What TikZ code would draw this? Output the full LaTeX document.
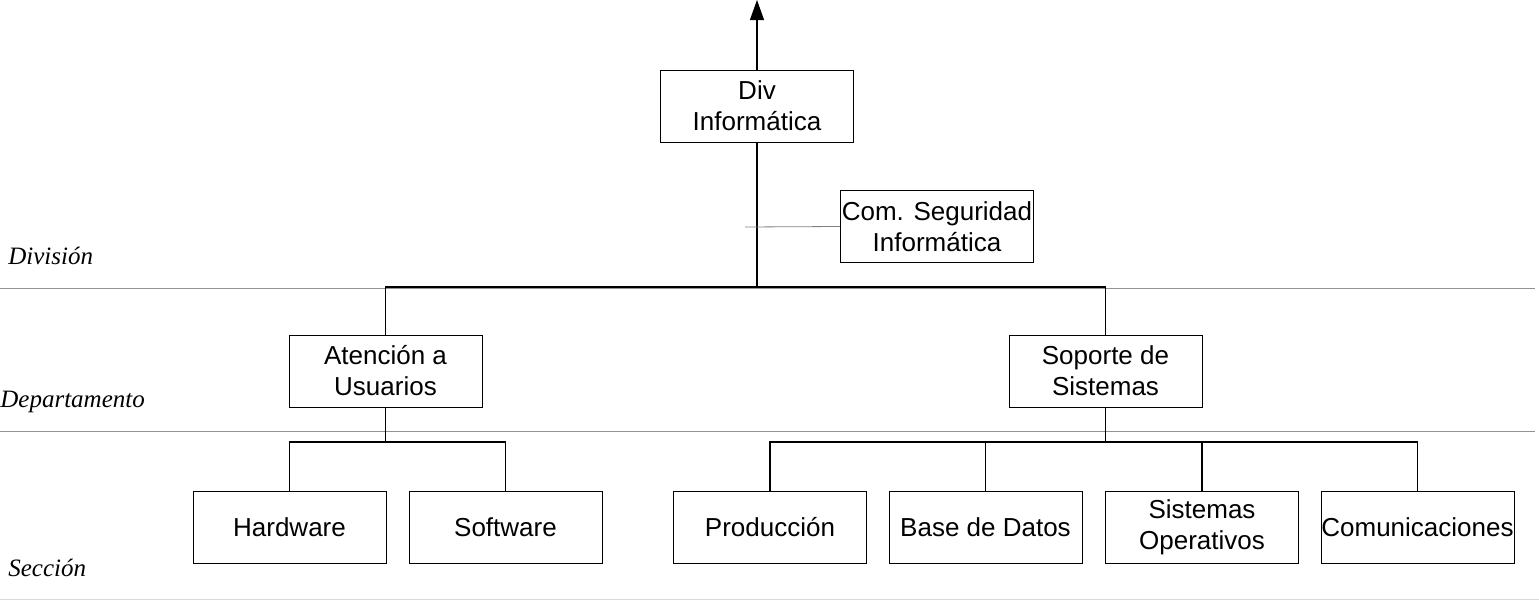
\documentclass[tikz,border=0pt]{standalone}
\usepackage{fontspec}
\setmainfont{Liberation Sans}
\newfontfamily\levelfont{Liberation Serif}
\usetikzlibrary{arrows.meta}

\tikzset{
  unit/.style={draw, line width=0.5pt, minimum width=96.5pt, minimum height=36pt,
    inner sep=0pt, align=center, font=\fontsize{13}{15.5}\selectfont},
  link/.style={line width=0.55pt},
  level/.style={gray!85, line width=0.4pt},
  levelname/.style={anchor=base west, inner sep=0pt, font=\levelfont\itshape\fontsize{12.5}{15}\selectfont}
}

\begin{document}
\begin{tikzpicture}[x=0.5pt, y=-0.5pt, >={Triangle[length=10pt, width=7pt]}]
    \useasboundingbox (0,0) rectangle (1539,600);

    % Draw the level lines
    \foreach \y in {288,431} {
        \draw[level] (0,\y) -- (1535,\y);
    }
    \draw[gray!30, line width=0.4pt] (0,599) -- (1539,599);

    % Level names
    \node[levelname] (ldiv) at (8,264) {División};
    \node[levelname] (ldep) at (0,407) {Departamento};
    \node[levelname] (lsec) at (8,576) {Sección};

    % Division
    \node[unit] (div) at (757,106) {Div\\Informática};
    \node[unit] (seg) at (937,226.5) {Com. Seguridad\\Informática};
    \coordinate (top) at (757,0);
    \coordinate (bus) at (757,287);
    \coordinate (segend) at (745,227);
    \draw[link, ->] (div.north) -- (top);
    \draw[link] (div.south) -- (bus);
    \draw[gray, line width=0.4pt] (seg.west) -- (segend);

    % Departments
    \node[unit] (aten) at (385.5,371) {Atención a\\Usuarios};
    \node[unit] (sop) at (1105.5,371) {Soporte de\\Sistemas};
    \draw[link] (aten.north) -- (aten |- bus) -- (sop |- bus) -- (sop.north);

    % Sections
    \def\ys{527}
    \node[unit] (hw) at (289.5,\ys) {Hardware};
    \node[unit] (sw) at (505.5,\ys) {Software};
    \node[unit] (prod) at (770,\ys) {Producción};
    \node[unit] (bd) at (985.5,\ys) {Base de Datos};
    \node[unit] (so) at (1202,\ys) {Sistemas\\Operativos};
    \node[unit] (com) at (1417.5,\ys) {Comunicaciones};

    % Connect the sections
    \coordinate (atenbus) at (385.5,442);
    \coordinate (sopbus) at (1105.5,442);
    \draw[link] (aten.south) -- (atenbus);
    \draw[link] (hw.north) -- (hw |- atenbus) -- (sw |- atenbus) -- (sw.north);
    \draw[link] (sop.south) -- (sopbus);
    \draw[link] (prod.north) -- (prod |- sopbus) -- (com |- sopbus) -- (com.north);
    \foreach \s in {bd,so} {
        \draw[link] (\s.north) -- (\s |- sopbus);
    }

\end{tikzpicture}
\end{document}
